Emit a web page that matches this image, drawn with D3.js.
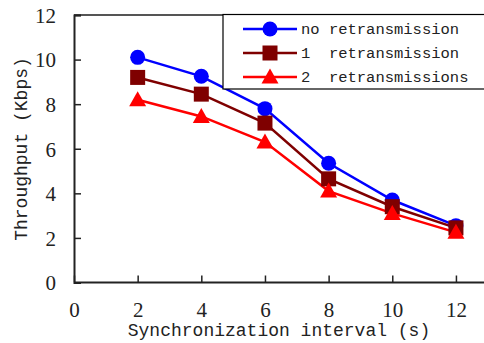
<!DOCTYPE html>
<html>
<head>
  <meta charset="utf-8">
  <title>Throughput vs synchronization interval</title>
  <script src="https://d3js.org/d3.v7.min.js"></script>
  <style>
    body { margin: 0; overflow: hidden; background: #fff; }
    svg { display: block; }
  </style>
</head>
<body>
  <svg width="484" height="343"></svg>

  <script>
    // data
    const intervals = [2, 4, 6, 8, 10, 12];
    const noRetrans = [10.1, 9.25, 7.8, 5.35, 3.7, 2.55];
    const oneRetrans = [9.2, 8.45, 7.15, 4.65, 3.4, 2.45];
    const twoRetrans = [8.2, 7.45, 6.3, 4.1, 3.1, 2.25];
    const xTicks = [0, 2, 4, 6, 8, 10, 12];
    const yTicks = [0, 2, 4, 6, 8, 10, 12];
    const seriesNames = ["no retransmission", "1  retransmission", "2  retransmissions"];

    const series = [
      { name: seriesNames[0], values: noRetrans, color: "#0000ff", shape: "circle" },
      { name: seriesNames[1], values: oneRetrans, color: "#7f0000", shape: "square" },
      { name: seriesNames[2], values: twoRetrans, color: "#ff0000", shape: "triangle" }
    ];

    const svg = d3.select("svg");
    const plotL = 74, plotT = 15, plotB = 282.5, plotR = 518;

    const x = d3.scaleLinear().domain([0, 13.95]).range([plotL, plotR]);
    const y = d3.scaleLinear().domain([0, 12]).range([plotB, plotT]);

    // 坐标框
    svg.append("line")
      .attr("x1", plotL).attr("x2", 484).attr("y1", plotT).attr("y2", plotT)
      .attr("stroke", "#555").attr("stroke-width", 2);

    const xAxis = svg.append("g")
      .attr("transform", `translate(0,${plotB})`)
      .call(d3.axisBottom(x).tickValues(xTicks).tickSize(-7).tickPadding(20).tickFormat(d3.format("d")));
    const yAxis = svg.append("g")
      .attr("transform", `translate(${plotL},0)`)
      .call(d3.axisLeft(y).tickValues(yTicks).tickSize(-7).tickPadding(18).tickFormat(d3.format("d")));

    [xAxis, yAxis].forEach(a => {
      a.select(".domain").attr("stroke", "#222").attr("stroke-width", 2);
      a.selectAll(".tick line").attr("stroke", "#222").attr("stroke-width", 1.5);
      a.selectAll(".tick text")
        .attr("fill", "#222")
        .style("font-family", "'Liberation Serif', serif")
        .style("font-size", "21px");
    });
    xAxis.select(".domain").attr("d", `M${plotL},0H484`);
    yAxis.selectAll(".tick text").attr("dy", "0.35em");

    // 轴标题
    svg.append("text")
      .attr("x", 279).attr("y", 336)
      .attr("text-anchor", "middle")
      .style("font-family", "'Liberation Mono', monospace")
      .style("font-size", "18px")
      .attr("fill", "#222")
      .text("Synchronization interval (s)");

    svg.append("text")
      .attr("transform", "translate(27,149) rotate(-90)")
      .attr("text-anchor", "middle")
      .style("font-family", "'Liberation Mono', monospace")
      .style("font-size", "18px")
      .attr("fill", "#222")
      .text("Throughput (Kbps)");

    const line = d3.line()
      .x((d, i) => x(intervals[i]))
      .y(d => y(d));

    function drawMarker(sel, shape, color) {
      if (shape === "circle") {
        sel.append("circle").attr("r", 7.5).attr("fill", color);
      } else if (shape === "square") {
        sel.append("rect").attr("x", -7.5).attr("y", -7.5)
          .attr("width", 15).attr("height", 15).attr("fill", color);
      } else {
        sel.append("path").attr("d", "M0,-8.5L8.5,6.5L-8.5,6.5Z").attr("fill", color);
      }
    }

    series.forEach(s => {
      svg.append("path")
        .attr("d", line(s.values))
        .attr("fill", "none")
        .attr("stroke", s.color)
        .attr("stroke-width", 2.5);
    });
    series.forEach(s => {
      s.values.forEach((v, i) => {
        const g = svg.append("g").attr("transform", `translate(${x(intervals[i])},${y(v)})`);
        drawMarker(g, s.shape, s.color);
      });
    });

    // 图例
    const legend = svg.append("g");
    legend.append("rect")
      .attr("x", 223).attr("y", 14.5).attr("width", 270).attr("height", 74.5)
      .attr("fill", "#fff").attr("stroke", "#000").attr("stroke-width", 1.2);
    series.forEach((s, i) => {
      const cy = 29 + i * 24;
      legend.append("line")
        .attr("x1", 243).attr("x2", 297).attr("y1", cy).attr("y2", cy)
        .attr("stroke", s.color).attr("stroke-width", 2.5);
      const g = legend.append("g").attr("transform", `translate(270,${cy})`);
      drawMarker(g, s.shape, s.color);
      legend.append("text")
        .attr("x", 301).attr("y", cy).attr("dy", "0.35em")
        .style("font-family", "'Liberation Mono', monospace")
        .style("font-size", "15.5px")
        .attr("fill", "#222")
        .text(s.name)
        .style("white-space", "pre");
    });
  </script>
</body>
</html>
